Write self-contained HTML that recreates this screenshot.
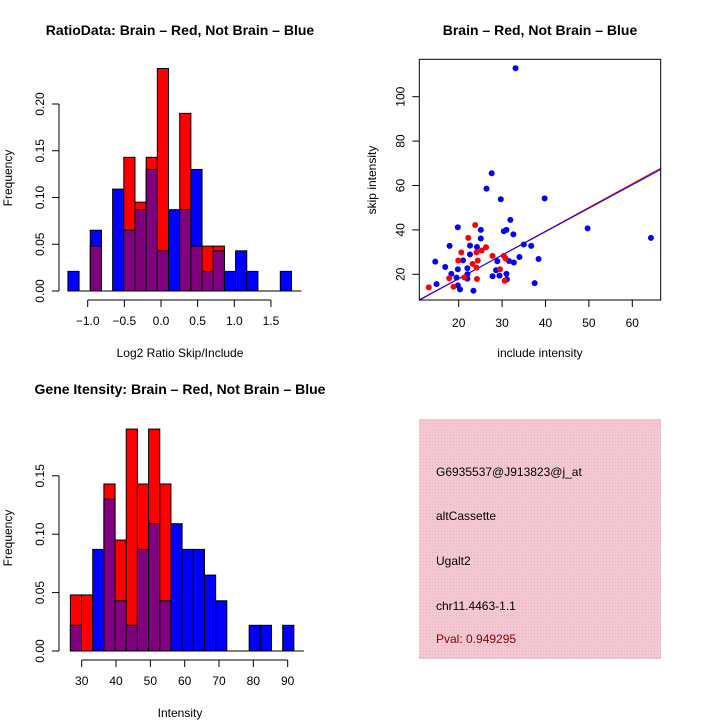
<!DOCTYPE html>
<html><head><meta charset="utf-8"><style>
body{margin:0;background:#fff;}
svg{display:block;font-family:"Liberation Sans",sans-serif;}
</style></head><body>
<svg id="s" width="720" height="720" viewBox="0 0 720 720">
<rect width="720" height="720" fill="#fff"/>
<defs><pattern id="hatch" width="3" height="3" patternUnits="userSpaceOnUse"><rect width="3" height="3" fill="#f4c8d2"/><rect width="1" height="1" fill="#ecb4c2"/></pattern></defs>
<rect x="419" y="419" width="242" height="240" fill="url(#hatch)"/>
<g font-size="12">
<text x="436" y="476">G6935537@J913823@j_at</text>
<text x="436" y="520">altCassette</text>
<text x="436" y="565">Ugalt2</text>
<text x="436" y="610">chr11.4463-1.1</text>
<text x="436" y="643" fill="#8b0000">Pval: 0.949295</text>
</g>
</svg>
<script>
const ns="http://www.w3.org/2000/svg";
const svg=document.getElementById('s');
function mk(tag,attrs,parent){const e=document.createElementNS(ns,tag);for(const k in attrs)e.setAttribute(k,attrs[k]);(parent||svg).appendChild(e);return e;}

// ---- Ratio histogram data ----
const ratioStart=-1.27, ratioBin=0.1525;
const ratioRed=[0,0,0.048,0,0,0.143,0.095,0.143,0.238,0,0.190,0.048,0.048,0.048,0,0,0,0,0,0];
const ratioBlue=[0.021,0,0.065,0,0.109,0.065,0.087,0.130,0.043,0.087,0.087,0.130,0.021,0.043,0.021,0.043,0.021,0,0,0.021];
const ratioXTicks=[-1.0,-0.5,0.0,0.5,1.0,1.5];
const ratioXLabels=["\u22121.0","\u22120.5","0.0","0.5","1.0","1.5"];
const ratioYTicks=[0,0.05,0.10,0.15,0.20];
const ratioYLabels=["0.00","0.05","0.10","0.15","0.20"];

// ---- Intensity histogram data ----
const intStart=26.7, intBin=3.255;
const intRed=[0.048,0.048,0,0.143,0.095,0.190,0.143,0.190,0.143,0,0,0,0,0,0,0,0,0,0,0];
const intBlue=[0.022,0,0.087,0.130,0.043,0.022,0.087,0.109,0.043,0.109,0.087,0.087,0.065,0.043,0,0,0.022,0.022,0,0.022];
const intXTicks=[30,40,50,60,70,80,90];
const intYTicks=[0,0.05,0.10,0.15];
const intYLabels=["0.00","0.05","0.10","0.15"];

// ---- Scatter data ----
const blueX=[33.1,27.6,26.4,29.7,39.8,31.9,19.8,25.1,31,30.4,32.6,49.7,64.3,25.1,17.9,22.6,24.2,35,36.7,22.6,14.6,21,28.9,31.6,32.7,34,38.4,16.9,19.8,22,18.3,22,31,14.9,19.5,22,27.8,29.4,28.6,31.1,37.5,19.8,20.3,23.4];
const blueY=[112.8,65.5,58.6,53.8,54.2,44.5,41.2,40,40,39.4,38,40.7,36.4,36.1,32.8,32.9,32.3,33.4,32.8,29,25.7,26.3,25.9,26,25.3,27.8,26.9,23.3,22.3,22.7,20.2,20,20.2,15.6,18.5,18,19.1,19.4,21.8,17.7,16,15,13.2,12.6];
const redX=[13.1,17.8,18.8,19.9,20.6,22.2,23.8,21.3,23.2,24.1,24.2,24.1,24.4,25.3,26.3,27.8,30.4,30.8,29.5,30.6];
const redY=[14.1,18.2,14.4,26.2,29.9,36.4,42.2,18.6,24.7,23,17.9,29.9,26.2,30.7,32.2,28.3,28.3,27.1,22.3,17.1];
const fitRed=[1.07,-3.4];
const fitBlue=[1.055,-3.0];
const scXTicks=[20,30,40,50,60];
const scYTicks=[20,40,60,80,100];

function text(x,y,s,o){const t=mk('text',Object.assign({x:x,y:y,'text-anchor':'middle','font-size':12},o||{}));t.textContent=s;return t;}

function histogram(name,start,bin,red,blue,xTicks,xLabels,yTicks,yLabels,X0,PXU,Y0,PYU,axisY,yAxisX,title,titleY,xlab,xlabY,ylabY){
  const g=mk('g',{});
  
  
  const sx=v=>X0+(v-xTicks[0])*PXU, sy=v=>Y0-v*PYU;
  for(let i=0;i<red.length;i++){
    const r=red[i],b=blue[i];const top=Math.max(r,b),low=Math.min(r,b);
    if(top<=0)continue;
    const x1=sx(start+i*bin),x2=sx(start+(i+1)*bin);
    const c=r>=b?'#ff0000':'#0000ff';
    const rc=mk('rect',{x:x1,y:sy(top),width:x2-x1,height:sy(0)-sy(top),fill:c,stroke:'#000','stroke-width':1},g);
    
    
    if(low>0){const p=mk('rect',{x:x1,y:sy(low),width:x2-x1,height:sy(0)-sy(low),fill:'#800080',stroke:'#000','stroke-width':1},g);
      
      }
  }
  // baseline
  mk('line',{x1:sx(start),x2:sx(start+red.length*bin)+10,y1:Y0,y2:Y0,stroke:'#000'},g);
  // x axis
  const xa=mk('g',{},g);
  
  
  mk('line',{x1:sx(xTicks[0]),x2:sx(xTicks[xTicks.length-1]),y1:axisY,y2:axisY,stroke:'#000'},xa);
  xTicks.forEach((v,i)=>{mk('line',{x1:sx(v),x2:sx(v),y1:axisY,y2:axisY+7,stroke:'#000'},xa);text(sx(v),axisY+25,xLabels[i],{},xa);});
  // y axis
  const ya=mk('g',{},g);
  
  
  mk('line',{x1:yAxisX,x2:yAxisX,y1:sy(yTicks[0]),y2:sy(yTicks[yTicks.length-1]),stroke:'#000'},ya);
  yTicks.forEach((v,i)=>{mk('line',{x1:yAxisX-7,x2:yAxisX,y1:sy(v),y2:sy(v),stroke:'#000'},ya);
    text(yAxisX-15,sy(v),yLabels[i],{transform:`rotate(-90 ${yAxisX-15} ${sy(v)})`});});
  const t=text(180,titleY,title,{'font-weight':'bold','font-size':14});
  
  const xl=text(180,xlabY,xlab);
  const yl=text(12,ylabY,'Frequency',{transform:`rotate(-90 12 ${ylabY})`});
  
}

histogram('ratio-histogram',ratioStart,ratioBin,ratioRed,ratioBlue,ratioXTicks,ratioXLabels,ratioYTicks,ratioYLabels,
  87.7,73.3,291,935,300,59,'RatioData: Brain \u2013 Red, Not Brain \u2013 Blue',35,'Log2 Ratio Skip/Include',357,178);
histogram('intensity-histogram',intStart,intBin,intRed,intBlue,intXTicks,intXTicks.map(String),intYTicks,intYLabels,
  81.7,3.433,651,1168,660,59,'Gene Itensity: Brain \u2013 Red, Not Brain \u2013 Blue',394,'Intensity',717,538);

// scatter
(function(){
  const g=mk('g',{});
  
  
  const sx=v=>458.7+(v-20)*4.34, sy=v=>274.3-(v-20)*2.22;
  const L=419.3,R=660.7,T=59.3,B=300;
  const cp=mk('clipPath',{id:'cp'},g);mk('rect',{x:L,y:T,width:R-L,height:B-T},cp);
  const lr=mk('line',{x1:sx(10),y1:sy(fitRed[0]*10+fitRed[1]),x2:sx(70),y2:sy(fitRed[0]*70+fitRed[1]),stroke:'#ff0000','stroke-width':1,'clip-path':'url(#cp)'},g);
  
  const lb=mk('line',{x1:sx(10),y1:sy(fitBlue[0]*10+fitBlue[1]),x2:sx(70),y2:sy(fitBlue[0]*70+fitBlue[1]),stroke:'#0000ff','stroke-width':1,'clip-path':'url(#cp)'},g);
  
  blueX.forEach((x,i)=>{const c=mk('circle',{cx:sx(x),cy:sy(blueY[i]),r:3,fill:'#0000ff'},g);
    });
  redX.forEach((x,i)=>{const c=mk('circle',{cx:sx(x),cy:sy(redY[i]),r:3,fill:'#ff0000'},g);
    });
  mk('rect',{x:L,y:T,width:R-L,height:B-T,fill:'none',stroke:'#000'},g);
  scXTicks.forEach(v=>{mk('line',{x1:sx(v),x2:sx(v),y1:B,y2:B+7,stroke:'#000'},g);text(sx(v),B+27,String(v));});
  scYTicks.forEach(v=>{mk('line',{x1:L-7,x2:L,y1:sy(v),y2:sy(v),stroke:'#000'},g);text(L-15,sy(v),String(v),{transform:`rotate(-90 ${L-15} ${sy(v)})`});});
  const t=text(540,35,'Brain \u2013 Red, Not Brain \u2013 Blue',{'font-weight':'bold','font-size':14});
  
  const xl=text(540,357,'include intensity');
  const yl=text(376,180,'skip intensity',{transform:'rotate(-90 376 180)'});
  
})();
</script>
</body></html>
